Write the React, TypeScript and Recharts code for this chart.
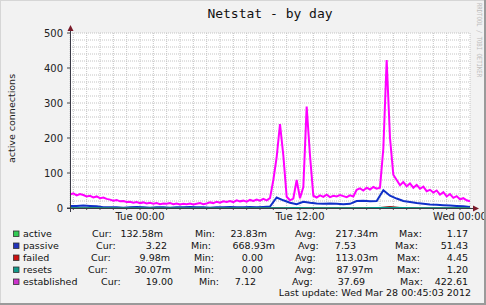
import React from 'react'
import { LineChart, Line, XAxis, YAxis, CartesianGrid } from 'recharts'

// time in hours relative to Tue 00:00, graph starts Mon 18:45
const startHour = -5.25
const quarterHours = Array.from({ length: 121 }, (_, i) => startHour + i * 0.25)
const halfHours = Array.from({ length: 61 }, (_, i) => startHour + i * 0.5)
const wholeHours = Array.from({ length: 31 }, (_, i) => startHour + i)

const hourTicks = Array.from({ length: 30 }, (_, i) => -5 + i)
const xLabels: Record<number, string> = { 0: 'Tue 00:00', 12: 'Tue 12:00', 24: 'Wed 00:00' }
const yTicks = Array.from({ length: 26 }, (_, i) => i * 20)

const establishedValues = [
  38, 42, 36, 40, 37, 33,
  35, 30, 33, 28, 30, 26,
  24, 21, 23, 19, 20, 17,
  18, 15, 17, 14, 16, 13,
  15, 12, 14, 11, 13, 12,
  14, 11, 13, 10, 12, 11,
  13, 10, 12, 14, 11, 13,
  16, 14, 18, 15, 19, 17,
  20, 17, 22, 19, 21, 18,
  23, 20, 24, 21, 26, 22,
  28, 80, 145, 240, 150, 32, 22, 27, 80, 28, 60, 290, 150, 35,
  30, 36, 32, 38, 31, 35,
  33, 37, 34, 31, 36, 33,
  52,
  56, 50, 58, 53, 60, 55,
  58, 170, 423, 200, 95, 80,
  65, 74, 62, 70, 58, 66,
  55, 61, 48, 52, 44, 50,
  38, 45, 33, 40, 29, 34,
  25, 28, 22, 19,
]

const passiveValues = [
  6, 6, 7, 6, 5, 2,
  2, 2, 1, 2, 3, 2, 1, 2, 2, 1, 2, 2, 3, 2, 2, 1, 2, 2, 3, 2, 2, 3, 2, 3, 4,
  30, 22, 15, 11, 18, 15,
  13, 12, 13, 12, 11,
  12, 20, 21, 19, 20,
  51, 35, 27, 20, 17, 14, 12, 10, 9, 8, 7, 6, 5, 3,
]

const activeValues = [
  0.2, 0.1, 0.3, 0.1, 0.2, 0.1, 0.1, 0.05, 0.1, 0.1, 0.05, 0.1, 0.1, 0.2, 0.1, 0.3,
  0.5, 0.4, 0.3, 0.3, 0.2, 0.3, 0.4, 1.17, 0.6, 0.3, 0.2, 0.1, 0.2, 0.1, 0.13,
]

const failedValues = [
  0, 0, 0, 0, 0, 0, 0, 0, 0, 0, 0, 0, 0, 0, 0, 0.1,
  0.2, 0, 0, 0, 0, 0.1, 0, 0.2, 4.45, 0.3, 0, 0, 0, 0, 0.01,
]

const resetsValues = [
  0.1, 0.2, 0.1, 0, 0.1, 0, 0.1, 0, 0, 0.1, 0, 0, 0.1, 0, 0.1, 0.3,
  0.2, 0.4, 0.1, 0.2, 0.3, 0.2, 0.3, 0.6, 1.2, 0.4, 0.2, 0.1, 0.2, 0.1, 0.03,
]

const established = quarterHours.map((t, i) => ({ t, v: establishedValues[i] }))
const passive = halfHours.map((t, i) => ({ t, v: passiveValues[i] }))
const active = wholeHours.map((t, i) => ({ t, v: activeValues[i] }))
const failed = wholeHours.map((t, i) => ({ t, v: failedValues[i] }))
const resets = wholeHours.map((t, i) => ({ t, v: resetsValues[i] }))

const legendNames = ['active', 'passive', 'failed', 'resets', 'established']
const legendColors = ['#33cc55', '#2233bb', '#cc1111', '#11998a', '#cc33cc']
const legendCur = ['132.58m', '3.22', '9.98m', '30.07m', '19.00']
const legendMin = ['23.83m', '668.93m', '0.00', '0.00', '7.12']
const legendAvg = ['217.34m', '7.53', '113.03m', '87.97m', '37.69']
const legendMax = ['1.17', '51.43', '4.45', '1.20', '422.61']
const lastUpdate = 'Last update: Wed Mar 28 00:45:03 2012'

// legend layout (rrdtool justifies each row)
const rowY = [236.5, 248.5, 260.5, 272.5, 284.5]
const labelX = [
  [92, 195, 295, 399],
  [96, 191, 298, 395],
  [91, 194, 295, 397],
  [88, 194, 295, 397],
  [101, 199, 292, 400],
]
const valueEndX = [
  [163, 267, 378, 468],
  [167, 275, 356, 468],
  [170, 263, 378, 468],
  [171, 263, 373, 468],
  [173, 256, 365, 468],
]

const FONT = 'DejaVu Sans, sans-serif'

const XTick = (props: any) => {
  const { x, y, payload } = props
  const label = xLabels[payload.value]
  return (
    <g>
      <line x1={x} x2={x} y1={y} y2={y + 2} stroke="#555" strokeWidth={1} />
      {label && (
        <text x={x} y={y + 12} textAnchor="middle" fontSize={10} fontFamily={FONT} fill="#222">
          {label}
        </text>
      )}
    </g>
  )
}

const YTick = (props: any) => {
  const { x, y, payload } = props
  if (payload.value % 100 !== 0) return <g />
  return (
    <g>
      <line x1={x - 3} x2={x} y1={y} y2={y} stroke="#444" strokeWidth={1} />
      <text x={x - 7} y={y} dy={3.5} textAnchor="end" fontSize={10} fontFamily={FONT} fill="#222">
        {payload.value}
      </text>
    </g>
  )
}

export default function App() {
  return (
    <div style={{ position: 'absolute', left: 0, top: 0, width: 486, height: 305, background: '#f2f2f2', overflow: 'hidden' }}>
      <div style={{ position: 'absolute', left: 0, top: 0 }}>
        <LineChart width={486} height={230} margin={{ top: 33, right: 16, bottom: 0, left: 0 }}>
          <CartesianGrid stroke="#c4c4c4" strokeDasharray="1 1" fill="#ffffff" />
          <XAxis
            type="number"
            dataKey="t"
            domain={[startHour, 24.75]}
            ticks={hourTicks}
            interval={0}
            allowDataOverflow
            height={22}
            axisLine={false}
            tickLine={false}
            tickSize={0}
            tickMargin={0}
            tick={<XTick />}
          />
          <YAxis
            type="number"
            domain={[0, 500]}
            ticks={yTicks}
            interval={0}
            width={70}
            axisLine={false}
            tickLine={false}
            tickSize={0}
            tickMargin={0}
            tick={<YTick />}
          />
          <Line data={active} dataKey="v" type="linear" stroke="#22cc44" strokeWidth={1} dot={false} activeDot={false} isAnimationActive={false} />
          <Line data={passive} dataKey="v" type="linear" stroke="#1030c8" strokeWidth={2} dot={false} activeDot={false} isAnimationActive={false} />
          <Line data={failed} dataKey="v" type="linear" stroke="#cc0000" strokeWidth={1} dot={false} activeDot={false} isAnimationActive={false} />
          <Line data={resets} dataKey="v" type="linear" stroke="#009a88" strokeWidth={1.5} dot={false} activeDot={false} isAnimationActive={false} />
          <Line data={established} dataKey="v" type="linear" stroke="#ff00ff" strokeWidth={2} dot={false} activeDot={false} isAnimationActive={false} />
        </LineChart>
      </div>
      <svg width={486} height={305} style={{ position: 'absolute', left: 0, top: 0, pointerEvents: 'none' }}>
        {/* frame */}
        <line x1={0} y1={0.5} x2={486} y2={0.5} stroke="#d6d6d6" />
        <line x1={0.5} y1={0} x2={0.5} y2={305} stroke="#d6d6d6" />
        <line x1={0} y1={304} x2={486} y2={304} stroke="#9a9a9a" strokeWidth={2} />
        <line x1={485} y1={0} x2={485} y2={305} stroke="#9a9a9a" strokeWidth={2} />

        <text x={270} y={18} textAnchor="middle" fontSize={13} fontFamily="DejaVu Sans Mono, monospace" fill="#111">
          Netstat - by day
        </text>
        <text
          transform="translate(15,118.5) rotate(-90)"
          textAnchor="middle"
          fontSize={9.5}
          fontFamily={FONT}
          fill="#222"
        >
          active connections
        </text>
        <text
          transform="translate(477,3) rotate(90)"
          fontSize={7}
          fontFamily="DejaVu Sans Mono, monospace"
          fill="#bdbdbd"
          textLength={74}
          lengthAdjust="spacingAndGlyphs"
        >
          RRDTOOL / TOBI OETIKER
        </text>

        {/* axes with arrows */}
        <line x1={70.5} y1={212} x2={70.5} y2={29} stroke="#3a3a46" strokeWidth={1} />
        <polygon points="70.5,25 67.5,31 73.5,31" fill="#7a1a2a" />
        <line x1={67} y1={208.5} x2={474} y2={208.5} stroke="#3a3a46" strokeWidth={1} />
        <polygon points="479,208.5 473,205.5 473,211.5" fill="#7a1a2a" />

        {/* legend */}
        {legendNames.map((name, r) => {
          const y = rowY[r]
          const vals = [legendCur[r], legendMin[r], legendAvg[r], legendMax[r]]
          const labs = ['Cur:', 'Min:', 'Avg:', 'Max:']
          return (
            <g key={name} fontFamily={FONT} fontSize={9.5} fill="#111">
              <rect x={13.5} y={y - 5.5} width={5.5} height={5.5} fill={legendColors[r]} stroke="#333" strokeWidth={0.8} />
              <text x={23} y={y}>{name}</text>
              {labs.map((l, c) => (
                <text key={l} x={labelX[r][c]} y={y}>{l}</text>
              ))}
              {vals.map((v, c) => (
                <text key={c} x={valueEndX[r][c]} y={y} textAnchor="end">{v}</text>
              ))}
            </g>
          )
        })}
        <text x={471} y={296} textAnchor="end" fontFamily={FONT} fontSize={9.5} fill="#111">
          {lastUpdate}
        </text>
      </svg>
    </div>
  )
}
